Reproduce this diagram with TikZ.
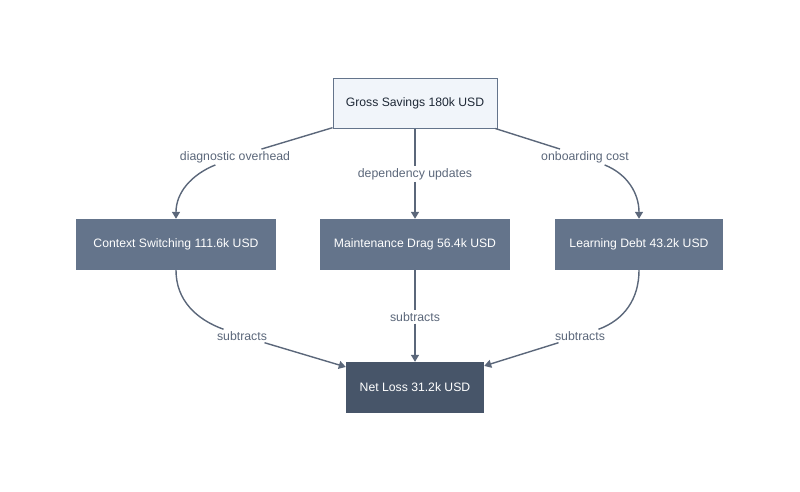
\documentclass[tikz,border=0pt]{standalone}
\usepackage{fontspec}
\setmainfont{Liberation Sans}
\usepackage{tikz}
\usetikzlibrary{arrows.meta,positioning}
\definecolor{ink}{HTML}{1F2937}
\definecolor{muted}{HTML}{5B677A}
\definecolor{slate}{HTML}{64748B}
\definecolor{deep}{HTML}{475569}
\definecolor{pale}{HTML}{F1F5FA}

\begin{document}
\begin{tikzpicture}[
  x=1pt,y=-1pt,
  every node/.style={font=\fontsize{12.2}{14}\selectfont},
  gross/.style={rectangle,draw=slate,fill=pale,line width=1pt,text=ink,minimum width=164pt,minimum height=50pt,inner sep=0pt},
  cost/.style={rectangle,fill=slate,text=white,minimum height=51pt,inner sep=0pt},
  net/.style={rectangle,fill=deep,text=white,minimum width=138pt,minimum height=51pt,inner sep=0pt},
  lbl/.style={font=\fontsize{12.3}{14}\selectfont,text=muted,inner sep=2pt},
  line/.style={line width=1.4pt,color=muted,-{Triangle[length=7pt,width=8pt]}},
  plain/.style={line width=1.4pt,color=muted}
]
\useasboundingbox (0,0) rectangle (800,491);
\node[gross] (G) at (415,103) {Gross Savings 180k USD};
\node[cost,minimum width=200pt] (C) at (176,244.5) {Context Switching 111.6k USD};
\node[cost,minimum width=190pt] (M) at (415,244.5) {Maintenance Drag 56.4k USD};
\node[cost,minimum width=168pt] (L) at (639,244.5) {Learning Debt 43.2k USD};
\node[net] (N) at (415,387.5) {Net Loss 31.2k USD};
% labels on the edges
\node[lbl] (lc) at (235,157) {diagnostic overhead};
\node[lbl] (lm) at (415,174) {dependency updates};
\node[lbl] (ll) at (585,157) {onboarding cost};
\node[lbl] (sc) at (242,336) {subtracts};
\node[lbl] (sm) at (415,317) {subtracts};
\node[lbl] (sl) at (580,336) {subtracts};
% top edges
\draw[plain] (G) -- (lc);
\draw[line] (lc) to[out=-158,in=90] (C.north);
\draw[plain] (G) -- (lm);
\draw[line] (lm) -- (M.north);
\draw[plain] (G) -- (ll);
\draw[line] (ll) to[out=-22,in=90] (L.north);
% bottom edges
\draw[plain] (C.south) to[out=-90,in=160] (sc);
\draw[line] (sc) -- (N);
\draw[plain] (M.south) -- (sm);
\draw[line] (sm) -- (N.north);
\draw[plain] (L.south) to[out=-90,in=20] (sl);
\draw[line] (sl) -- (N);
\end{tikzpicture}
\end{document}
